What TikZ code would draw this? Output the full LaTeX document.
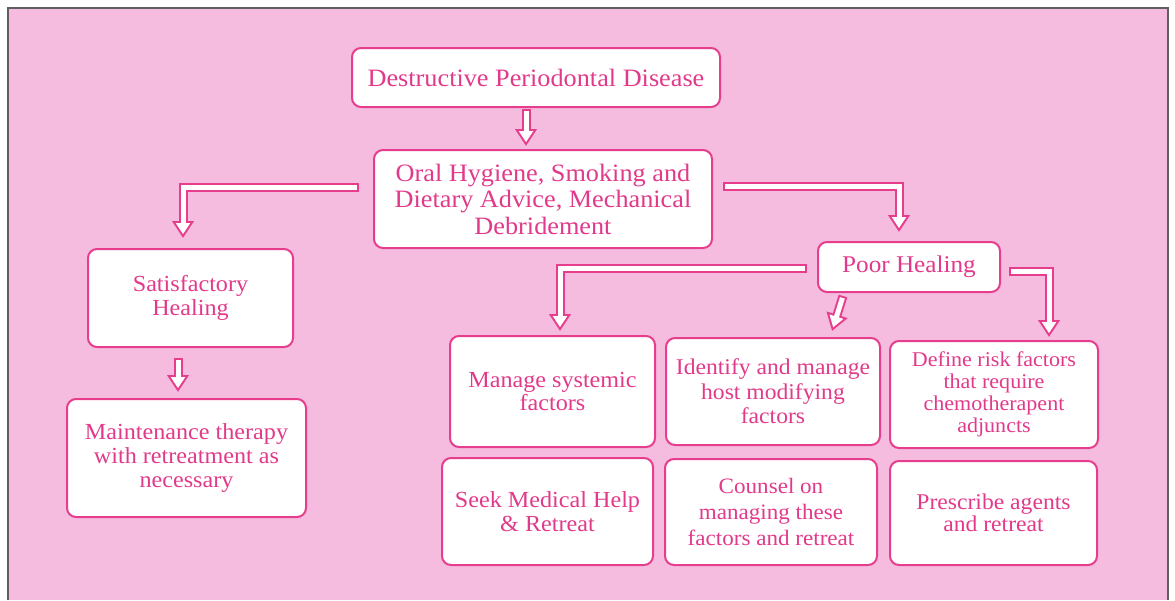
\documentclass[tikz,border=0pt]{standalone}
\usepackage{fontspec}
\setmainfont[FakeStretch=1.05]{Liberation Serif}
\usetikzlibrary{arrows.meta}

\definecolor{bgpink}{RGB}{245,188,224}
\definecolor{linepink}{RGB}{230,62,140}
\definecolor{textpink}{RGB}{226,58,138}
\definecolor{framegray}{RGB}{95,95,95}

\begin{document}
\begin{tikzpicture}[x=1pt, y=-1pt]
\tikzset{ box/.style={draw=linepink, fill=white, line width=2pt, rounded corners=9pt,
            align=center, text=textpink, inner sep=0pt},
  hollow/.style={linepink, line width=9pt, -{Triangle[width=21pt,length=17pt]},
     postaction={draw=white, line width=5pt, shorten <=2pt, shorten >=3.8pt,
                 -{Triangle[width=13.8pt,length=11.2pt]}}},
}

\useasboundingbox (0,0) rectangle (1175,600);
\fill [bgpink] (8,8) rectangle (1168,600);
\draw [framegray, line width=1.2pt] (8,600) -- (8,8) -- (1168,8) -- (1168,600);

\node [box, minimum width=368pt, minimum height=59pt, font=\fontsize{25}{27}\selectfont] (disease) at (536,77.5) {Destructive Periodontal Disease};
\node [box, minimum width=338pt, minimum height=98pt, font=\fontsize{25}{26.5}\selectfont] (advice) at (543,199) {Oral Hygiene, Smoking and\\Dietary Advice, Mechanical\\Debridement};

\node [box, minimum width=205pt, minimum height=98pt, font=\fontsize{23}{24}\selectfont] (good) at (190.5,298) {Satisfactory\\Healing};
\node [box, minimum width=239pt, minimum height=118pt, font=\fontsize{23}{24}\selectfont] (maint) at (186.5,458) {Maintenance therapy\\with retreatment as\\necessary};

\node [box, minimum width=182pt, minimum height=50pt, font=\fontsize{24}{26}\selectfont] (poor) at (909,267) {Poor Healing};

\node [box, minimum width=205pt, minimum height=111pt, font=\fontsize{23}{23}\selectfont] (systemic) at (552.5,391.5) {Manage systemic\\factors};
\node [box, minimum width=214pt, minimum height=107pt, font=\fontsize{22.5}{24.5}\selectfont] (host) at (773,391.5) {Identify and manage\\host modifying\\factors};
\node [box, minimum width=208pt, minimum height=107pt, font=\fontsize{21}{22}\selectfont] (risk) at (994,394.5) {Define risk factors\\that require\\chemotherapent\\adjuncts};

\node [box, minimum width=211pt, minimum height=107pt, font=\fontsize{23}{23.5}\selectfont] (seek) at (547.5,511.5) {Seek Medical Help\\\& Retreat};
\node [box, minimum width=212pt, minimum height=106pt, font=\fontsize{22}{26}\selectfont] (counsel) at (771,512) {Counsel on\\managing these\\factors and retreat};
\node [box, minimum width=207pt, minimum height=104pt, font=\fontsize{22.5}{22.5}\selectfont] (agents) at (993.5,513) {Prescribe agents\\and retreat};

% hollow arrows
\draw [hollow] ([xshift=-10pt,yshift=-1pt]disease.south) -- ([xshift=-17pt,yshift=3pt]advice.north);
\draw [hollow] ([xshift=-14pt,yshift=12pt]advice.west) -| ([xshift=-7.5pt,yshift=10pt]good.north);
\draw [hollow] ([xshift=10pt,yshift=13pt]advice.east) -| ([xshift=-10pt,yshift=9pt]poor.north);
\draw [hollow] ([xshift=-12.5pt,yshift=-10pt]good.south) -- ([xshift=-8.5pt,yshift=6pt]maint.north);

\draw [hollow] ([xshift=-10pt,yshift=-1pt]poor.west) -| ([xshift=7.5pt,yshift=4pt]systemic.north);
\draw [hollow] ([xshift=-66pt,yshift=-3pt]poor.south) -- ([xshift=59pt,yshift=6pt]host.north);
\draw [hollow] ([xshift=8pt,yshift=-4pt]poor.east) -| ([xshift=55pt,yshift=3pt]risk.north);

\end{tikzpicture}
\end{document}
